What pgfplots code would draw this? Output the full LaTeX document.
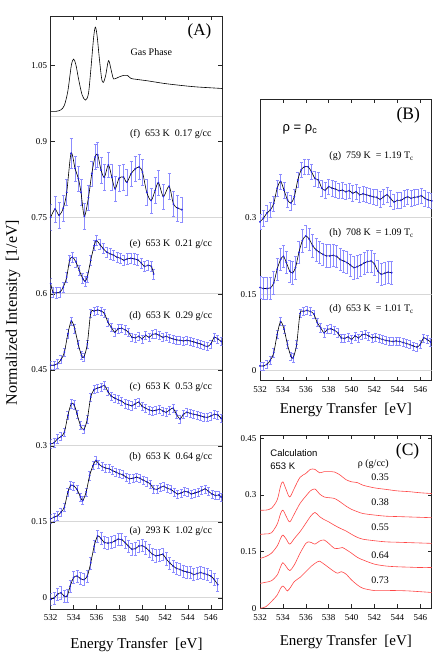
\documentclass[border=0pt]{standalone}
\usepackage{fontspec}
\setmainfont{Liberation Serif}
\newfontfamily\sansf{Liberation Sans}
\usepackage{pgfplots}
\usepackage{pgfplotstable}
\pgfplotsset{compat=1.18}

\definecolor{ptblue}{RGB}{40,40,230}
\definecolor{errblue}{RGB}{140,140,255}
\definecolor{sepgray}{RGB}{215,215,215}
\definecolor{calcred}{RGB}{255,70,70}

% gas phase spectrum
\pgfplotstableread{
x y
532.0 0.960
532.5 0.960
532.9 0.963
533.2 0.972
533.5 1.000
533.8 1.050
534.0 1.063
534.2 1.052
534.45 1.022
534.75 0.992
535.05 0.982
535.3 0.995
535.5 1.040
535.75 1.105
535.9 1.126
536.05 1.110
536.25 1.065
536.45 1.025
536.6 1.017
536.8 1.030
537.05 1.060
537.25 1.045
537.45 1.026
537.6 1.024
538.0 1.028
538.4 1.031
538.7 1.031
539.0 1.025
539.5 1.023
540.5 1.020
541.9 1.015
543.4 1.011
544.8 1.008
547.0 1.005
}\tabgas

% (f) 653 K 0.17 g/cc
\pgfplotstableread{
x y e
532.0 0.751 0.025
532.38 0.767 0.025
532.73 0.755 0.025
533.1 0.769 0.025
533.4 0.800 0.025
533.78 0.877 0.030
534.13 0.847 0.025
534.42 0.827 0.025
534.65 0.800 0.025
534.94 0.753 0.025
535.3 0.790 0.025
535.59 0.837 0.025
535.88 0.870 0.025
536.11 0.874 0.025
536.4 0.844 0.025
536.69 0.830 0.025
537.04 0.854 0.025
537.34 0.830 0.025
537.63 0.807 0.025
537.98 0.828 0.025
538.36 0.830 0.025
538.65 0.820 0.025
539.03 0.837 0.025
539.38 0.846 0.025
539.73 0.850 0.025
540.02 0.840 0.025
540.4 0.800 0.025
540.78 0.784 0.025
541.13 0.804 0.025
541.42 0.819 0.025
541.85 0.792 0.025
542.35 0.812 0.025
542.73 0.777 0.025
543.1 0.769 0.025
543.46 0.766 0.025
}\tabf

% (e) 653 K 0.21 g/cc
\pgfplotstableread{
x y e
532.0 0.620 0.010
532.2 0.603 0.010
532.5 0.602 0.010
532.8 0.603 0.010
533.1 0.613 0.010
533.4 0.633 0.010
533.65 0.666 0.010
533.9 0.672 0.010
534.2 0.663 0.010
534.5 0.646 0.010
534.8 0.630 0.010
535.0 0.625 0.010
535.2 0.633 0.010
535.5 0.666 0.010
535.8 0.695 0.010
536.0 0.705 0.010
536.3 0.697 0.010
536.6 0.689 0.010
536.9 0.682 0.010
537.2 0.679 0.010
537.5 0.676 0.010
537.8 0.672 0.010
538.1 0.670 0.010
538.4 0.666 0.010
538.7 0.669 0.010
539.0 0.670 0.010
539.3 0.669 0.010
539.6 0.667 0.010
539.9 0.661 0.010
540.2 0.654 0.010
540.5 0.656 0.010
540.8 0.654 0.010
541.0 0.639 0.010
}\tabe

% (d) 653 K 0.29 g/cc
\pgfplotstableread{
x y e
532.0 0.459 0.008
532.3 0.459 0.008
532.6 0.462 0.008
532.9 0.470 0.008
533.2 0.485 0.008
533.5 0.521 0.008
533.8 0.546 0.008
534.1 0.531 0.008
534.4 0.501 0.008
534.7 0.478 0.008
534.9 0.475 0.008
535.2 0.501 0.008
535.5 0.562 0.008
535.8 0.566 0.008
536.1 0.568 0.008
536.4 0.566 0.008
536.7 0.561 0.008
537.0 0.544 0.008
537.3 0.534 0.008
537.6 0.524 0.008
537.9 0.531 0.008
538.2 0.532 0.008
538.5 0.529 0.008
538.8 0.524 0.008
539.1 0.514 0.008
539.4 0.513 0.008
539.7 0.516 0.008
540.0 0.511 0.008
540.3 0.518 0.008
540.6 0.514 0.008
540.9 0.520 0.008
541.2 0.521 0.008
541.5 0.518 0.008
541.8 0.514 0.008
542.1 0.516 0.008
542.4 0.513 0.008
542.7 0.511 0.008
543.0 0.509 0.008
543.3 0.508 0.008
543.6 0.507 0.008
543.9 0.508 0.008
544.2 0.507 0.008
544.5 0.505 0.008
544.8 0.503 0.008
545.1 0.501 0.008
545.4 0.498 0.008
545.7 0.496 0.008
546.0 0.501 0.008
546.3 0.514 0.008
546.6 0.511 0.008
546.9 0.506 0.008
}\tabd

% (c) 653 K 0.53 g/cc
\pgfplotstableread{
x y e
532.0 0.304 0.008
532.3 0.306 0.008
532.6 0.314 0.008
532.9 0.318 0.008
533.2 0.327 0.008
533.5 0.360 0.008
533.8 0.383 0.008
534.05 0.381 0.008
534.3 0.363 0.008
534.6 0.340 0.008
534.9 0.332 0.008
535.2 0.353 0.008
535.5 0.396 0.008
535.8 0.411 0.008
536.1 0.414 0.008
536.4 0.416 0.008
536.7 0.419 0.008
537.0 0.407 0.008
537.3 0.398 0.008
537.6 0.394 0.008
537.9 0.391 0.008
538.2 0.388 0.008
538.5 0.383 0.008
538.8 0.381 0.008
539.1 0.379 0.008
539.4 0.383 0.008
539.7 0.386 0.008
540.0 0.378 0.008
540.3 0.374 0.008
540.6 0.371 0.008
540.9 0.369 0.008
541.2 0.370 0.008
541.5 0.372 0.008
541.8 0.369 0.008
542.1 0.366 0.008
542.4 0.371 0.008
542.7 0.374 0.008
543.0 0.362 0.008
543.3 0.353 0.008
543.6 0.362 0.008
543.9 0.366 0.008
544.2 0.364 0.008
544.5 0.362 0.008
544.8 0.361 0.008
545.1 0.359 0.008
545.4 0.357 0.008
545.7 0.356 0.008
546.0 0.359 0.008
546.3 0.362 0.008
546.6 0.361 0.008
546.9 0.354 0.008
}\tabc

% (b) 653 K 0.64 g/cc
\pgfplotstableread{
x y e
532.0 0.156 0.008
532.3 0.159 0.008
532.6 0.162 0.008
532.9 0.169 0.008
533.2 0.179 0.008
533.5 0.209 0.008
533.75 0.222 0.008
534.0 0.221 0.008
534.3 0.214 0.008
534.6 0.199 0.008
534.8 0.192 0.008
535.1 0.209 0.008
535.4 0.241 0.008
535.7 0.261 0.008
535.95 0.271 0.008
536.2 0.264 0.008
536.5 0.259 0.008
536.8 0.256 0.008
537.1 0.255 0.008
537.4 0.251 0.008
537.7 0.248 0.008
538.0 0.245 0.008
538.3 0.243 0.008
538.6 0.238 0.008
538.9 0.235 0.008
539.2 0.236 0.008
539.5 0.238 0.008
539.8 0.236 0.008
540.1 0.232 0.008
540.4 0.229 0.008
540.7 0.225 0.008
541.0 0.215 0.008
541.3 0.214 0.008
541.6 0.218 0.008
541.9 0.220 0.008
542.2 0.216 0.008
542.5 0.214 0.008
542.8 0.209 0.008
543.1 0.205 0.008
543.4 0.207 0.008
543.7 0.210 0.008
544.0 0.209 0.008
544.3 0.205 0.008
544.6 0.207 0.008
544.9 0.209 0.008
545.2 0.212 0.008
545.5 0.215 0.008
545.8 0.210 0.008
546.1 0.205 0.008
546.4 0.202 0.008
546.7 0.203 0.008
546.9 0.199 0.008
}\tabb

% (a) 293 K 1.02 g/cc
\pgfplotstableread{
x y e
532.0 -0.003 0.012
532.3 0.000 0.012
532.6 0.007 0.012
532.9 0.010 0.012
533.2 0.003 0.012
533.45 0.004 0.012
533.7 0.023 0.012
534.0 0.040 0.012
534.3 0.043 0.012
534.6 0.038 0.012
534.9 0.036 0.012
535.2 0.043 0.012
535.5 0.069 0.012
535.8 0.102 0.012
536.1 0.122 0.012
536.4 0.117 0.012
536.7 0.109 0.012
537.0 0.108 0.012
537.3 0.109 0.012
537.6 0.112 0.012
537.9 0.116 0.012
538.2 0.115 0.012
538.5 0.109 0.012
538.8 0.102 0.012
539.1 0.096 0.012
539.4 0.097 0.012
539.7 0.102 0.012
540.0 0.103 0.012
540.3 0.099 0.012
540.6 0.093 0.012
540.9 0.086 0.012
541.2 0.083 0.012
541.5 0.084 0.012
541.8 0.086 0.012
542.1 0.077 0.012
542.4 0.069 0.012
542.7 0.063 0.012
543.0 0.058 0.012
543.3 0.056 0.012
543.6 0.053 0.012
543.9 0.051 0.012
544.2 0.050 0.012
544.5 0.046 0.012
544.8 0.048 0.012
545.1 0.050 0.012
545.4 0.048 0.012
545.7 0.046 0.012
546.0 0.043 0.012
546.3 0.036 0.012
546.6 0.026 0.012
}\taba

% (g) 759 K = 1.19 Tc
\pgfplotstableread{
x y e
532.0 0.292 0.015
532.3 0.299 0.015
532.6 0.309 0.015
532.9 0.315 0.015
533.2 0.328 0.015
533.5 0.358 0.015
533.8 0.371 0.015
534.1 0.354 0.015
534.4 0.335 0.015
534.7 0.329 0.015
535.0 0.341 0.015
535.3 0.374 0.015
535.6 0.394 0.015
535.9 0.400 0.015
536.2 0.400 0.015
536.5 0.390 0.015
536.8 0.377 0.015
537.1 0.374 0.015
537.4 0.358 0.015
537.7 0.354 0.015
538.0 0.361 0.015
538.3 0.358 0.015
538.6 0.356 0.015
538.9 0.353 0.015
539.2 0.354 0.015
539.5 0.351 0.015
539.8 0.353 0.015
540.1 0.348 0.015
540.4 0.351 0.015
540.7 0.345 0.015
541.0 0.347 0.015
541.3 0.345 0.015
541.6 0.343 0.015
541.9 0.341 0.015
542.2 0.340 0.015
542.5 0.336 0.015
542.8 0.341 0.015
543.1 0.345 0.015
543.4 0.338 0.015
543.7 0.331 0.015
544.0 0.334 0.015
544.3 0.334 0.015
544.6 0.338 0.015
544.9 0.341 0.015
545.2 0.338 0.015
545.5 0.340 0.015
545.8 0.341 0.015
546.1 0.343 0.015
546.4 0.338 0.015
546.7 0.335 0.015
547.0 0.333 0.015
}\tabg

% (h) 708 K = 1.09 Tc
\pgfplotstableread{
x y e
532.0 0.163 0.022
532.3 0.161 0.022
532.6 0.161 0.022
532.9 0.162 0.022
533.2 0.172 0.022
533.5 0.199 0.022
533.8 0.218 0.022
534.05 0.224 0.022
534.3 0.212 0.022
534.6 0.195 0.022
534.85 0.192 0.022
535.1 0.202 0.022
535.4 0.232 0.022
535.7 0.255 0.022
536.0 0.264 0.022
536.3 0.258 0.022
536.6 0.245 0.022
536.9 0.237 0.022
537.2 0.232 0.022
537.5 0.228 0.022
537.8 0.225 0.022
538.1 0.225 0.022
538.4 0.226 0.022
538.7 0.224 0.022
539.0 0.218 0.022
539.3 0.215 0.022
539.6 0.212 0.022
539.9 0.207 0.022
540.2 0.202 0.022
540.5 0.204 0.022
540.8 0.207 0.022
541.1 0.211 0.022
541.4 0.214 0.022
541.7 0.215 0.022
542.0 0.209 0.022
542.3 0.195 0.022
542.6 0.189 0.022
542.9 0.191 0.022
543.2 0.193 0.022
543.5 0.192 0.022
}\tabh

\pgfplotsset{
  panel/.style={
    scale only axis, xmin=532, xmax=547, xtick={532,534,...,546},
    tick pos=both, tick align=inside, major tick length=4pt,
    axis line style={line width=0.7pt, black!85},
    every tick/.style={black!85, line width=0.5pt},
    tick label style={font=\fontsize{9}{10}\selectfont},
    xticklabel style={yshift=-2.5pt},
    /pgf/number format/assume math mode=true,
    label style={font=\fontsize{15}{17}\selectfont},
    xlabel={Energy Transfer\ \ [eV]},
  },
  fit/.style={black, line width=0.6pt, smooth, no marks},
  pts/.style={only marks, mark=*, mark size=0.7pt, ptblue,
    error bars/.cd, y dir=both, y explicit,
    error bar style={errblue, line width=0.5pt},
    error mark options={errblue, rotate=90, mark size=1.5pt, line width=0.5pt}},
  sep/.style={sepgray, line width=0.8pt, no marks},
}
\tikzset{lab/.style={font=\fontsize{10}{12}\selectfont}}

\begin{document}
\begin{tikzpicture}
\useasboundingbox (0,0) rectangle (436pt,-654pt);

% ---- panel A ----
\begin{axis}[panel, at={(50.7pt,-16pt)}, anchor=north west,
  width=171.6pt, height=593pt, ymin=-0.022, ymax=1.148,
  ytick={0,0.15,0.3,0.45,0.6,0.75,0.9,1.05},
  xlabel style={at={(axis description cs:0.5,-0.06)}, anchor=center},
  ylabel={Normalized Intensity\ \ [1/eV]},
  ylabel style={at={(axis description cs:-0.22,0.5)}, anchor=center, font=\fontsize{16}{18}\selectfont},
]
\addplot[sep] coordinates {(532,0) (547,0)};
\addplot[sep] coordinates {(532,0.15) (547,0.15)};
\addplot[sep] coordinates {(532,0.3) (547,0.3)};
\addplot[sep] coordinates {(532,0.45) (547,0.45)};
\addplot[sep] coordinates {(532,0.6) (547,0.6)};
\addplot[sep] coordinates {(532,0.75) (547,0.75)};
\addplot[sep] coordinates {(532,0.95) (547,0.95)};

\addplot[fit] table[x=x, y=y] {\tabgas};
\addplot[pts] table[x=x, y=y, y error=e] {\tabf};
\addplot[fit] table[x=x, y=y] {\tabf};
\addplot[pts] table[x=x, y=y, y error=e] {\tabe};
\addplot[fit] table[x=x, y=y] {\tabe};
\addplot[pts] table[x=x, y=y, y error=e] {\tabd};
\addplot[fit] table[x=x, y=y] {\tabd};
\addplot[pts] table[x=x, y=y, y error=e] {\tabc};
\addplot[fit] table[x=x, y=y] {\tabc};
\addplot[pts] table[x=x, y=y, y error=e] {\tabb};
\addplot[fit] table[x=x, y=y] {\tabb};
\addplot[pts] table[x=x, y=y, y error=e] {\taba};
\addplot[fit] table[x=x, y=y] {\taba};

\node[font=\fontsize{17}{17}\selectfont] at (axis cs:545,1.118) {(A)};
\node[lab] at (axis cs:540.8,1.076) {Gas Phase};
\node[lab] at (axis cs:542.5,0.915) {(f)\ \ 653 K\ \ 0.17 g/cc};
\node[lab] at (axis cs:542.5,0.697) {(e)\ \ 653 K\ \ 0.21 g/cc};
\node[lab] at (axis cs:542.5,0.555) {(d)\ \ 653 K\ \ 0.29 g/cc};
\node[lab] at (axis cs:542.5,0.416) {(c)\ \ 653 K\ \ 0.53 g/cc};
\node[lab] at (axis cs:542.5,0.278) {(b)\ \ 653 K\ \ 0.64 g/cc};
\node[lab] at (axis cs:542.5,0.131) {(a)\ \ 293 K\ \ 1.02 g/cc};
\end{axis}

% ---- panel B ----
\begin{axis}[panel, at={(260pt,-99pt)}, anchor=north west,
  width=171.7pt, height=281.7pt, ymin=-0.02, ymax=0.533,
  ytick={0,0.15,0.3},
  xlabel style={at={(axis description cs:0.5,-0.104)}, anchor=center},
]
\addplot[sep] coordinates {(532,0) (547,0)};
\addplot[sep] coordinates {(532,0.15) (547,0.15)};
\addplot[sep] coordinates {(532,0.3) (547,0.3)};
\addplot[pts] table[x=x, y=y, y error=e] {\tabg};
\addplot[fit] table[x=x, y=y] {\tabg};
\addplot[pts] table[x=x, y=y, y error=e] {\tabh};
\addplot[fit] table[x=x, y=y] {\tabh};
\addplot[pts] table[x=x, y expr=\thisrow{y}-0.45, y error=e] {\tabd};
\addplot[fit] table[x=x, y expr=\thisrow{y}-0.45] {\tabd};

\node[font=\fontsize{17.5}{18}\selectfont] at (axis cs:544.95,0.501) {(B)};
\node[font=\sansf\fontsize{13}{14}\selectfont] at (axis cs:535.5,0.473) {ρ = ρ\textsubscript{c}};
\node[lab] at (axis cs:541.75,0.42) {(g)\ \ 759 K\ \ = 1.19 T\textsubscript{c}};
\node[lab] at (axis cs:541.75,0.269) {(h)\ \ 708 K\ \ = 1.09 T\textsubscript{c}};
\node[lab] at (axis cs:541.75,0.12) {(d)\ \ 653 K\ \ = 1.01 T\textsubscript{c}};
\end{axis}

% ---- panel C ----
\begin{axis}[panel, at={(260pt,-435pt)}, anchor=north west,
  width=171.7pt, height=173.3pt, ymin=0, ymax=0.459,
  ytick={0,0.15,0.3,0.45},
  xlabel style={at={(axis description cs:0.5,-0.194)}, anchor=center},
]
\addplot[calcred, line width=0.6pt, smooth] coordinates {
(532.0,0.260) (532.5,0.260) (533.0,0.265) (533.5,0.287) (533.8,0.324) (534.0,0.335)
(534.3,0.313) (534.6,0.295) (535.0,0.318) (535.5,0.347) (536.0,0.357) (536.4,0.368)
(536.8,0.368) (537.2,0.359) (537.6,0.362) (538.0,0.362) (538.5,0.361) (539.0,0.353)
(539.5,0.341) (540.0,0.335) (540.5,0.333) (541,0.326) (542,0.319) (543,0.315)
(544,0.311) (545,0.309) (546,0.306) (547,0.304)};
\addplot[calcred, line width=0.6pt, smooth] coordinates {
(532.0,0.196) (532.5,0.197) (533.0,0.200) (533.5,0.223) (533.8,0.251) (534.0,0.260)
(534.3,0.243) (534.6,0.229) (535.0,0.250) (535.5,0.278) (536.0,0.297) (536.4,0.311)
(536.8,0.316) (537.2,0.303) (537.6,0.295) (538.0,0.293) (538.5,0.291) (539.0,0.282)
(539.5,0.271) (540.0,0.262) (540.5,0.256) (541,0.251) (542,0.247) (543,0.244)
(544,0.243) (545,0.242) (546,0.241) (547,0.240)};
\addplot[calcred, line width=0.6pt, smooth] coordinates {
(532.0,0.132) (532.5,0.137) (533.0,0.146) (533.5,0.165) (533.8,0.185) (534.0,0.194)
(534.3,0.183) (534.6,0.170) (535.0,0.185) (535.5,0.203) (536.0,0.225) (536.4,0.243)
(536.8,0.254) (537.2,0.243) (537.6,0.235) (538.0,0.229) (538.5,0.220) (539.0,0.212)
(539.5,0.205) (540.0,0.196) (540.5,0.188) (541,0.183) (542,0.179) (543,0.176)
(544,0.175) (545,0.174) (546,0.173) (547,0.172)};
\addplot[calcred, line width=0.6pt, smooth] coordinates {
(532.0,0.066) (532.5,0.069) (533.0,0.073) (533.5,0.088) (533.8,0.110) (534.0,0.121)
(534.3,0.110) (534.6,0.100) (535.0,0.115) (535.5,0.146) (536.0,0.172) (536.2,0.176)
(536.5,0.174) (536.8,0.170) (537.2,0.178) (537.6,0.181) (538.0,0.172) (538.5,0.159)
(538.9,0.159) (539.2,0.161) (539.6,0.154) (540.0,0.146) (540.5,0.135) (541,0.128)
(542,0.117) (543,0.112) (544,0.110) (545,0.109) (546,0.108) (547,0.108)};
\addplot[calcred, line width=0.6pt, smooth] coordinates {
(532.0,0.000) (532.5,0.004) (533.0,0.018) (533.5,0.035) (533.8,0.053) (534.0,0.059)
(534.2,0.053) (534.4,0.046) (534.7,0.057) (535.0,0.071) (535.5,0.082) (536.0,0.097)
(536.5,0.112) (537.0,0.123) (537.2,0.125) (537.6,0.117) (538.0,0.108) (538.5,0.097)
(538.8,0.093) (539.1,0.097) (539.5,0.091) (540.0,0.075) (540.5,0.062) (541,0.053)
(542,0.047) (543,0.047) (544,0.047) (545,0.046) (546,0.044) (547,0.042)};

\node[font=\fontsize{17.5}{18}\selectfont] at (axis cs:544.9,0.415) {(C)};
\node[font=\sansf\fontsize{9.5}{11}\selectfont, anchor=west] at (axis cs:532.6,0.412) {Calculation};
\node[font=\sansf\fontsize{9.5}{11}\selectfont, anchor=west] at (axis cs:532.6,0.376) {653 K};
\node[lab] at (axis cs:541.9,0.382) {ρ (g/cc)};
\node[lab] at (axis cs:542.5,0.347) {0.35};
\node[lab] at (axis cs:542.5,0.280) {0.38};
\node[lab] at (axis cs:542.5,0.214) {0.55};
\node[lab] at (axis cs:542.5,0.141) {0.64};
\node[lab] at (axis cs:542.5,0.075) {0.73};
\end{axis}
\end{tikzpicture}
\end{document}
